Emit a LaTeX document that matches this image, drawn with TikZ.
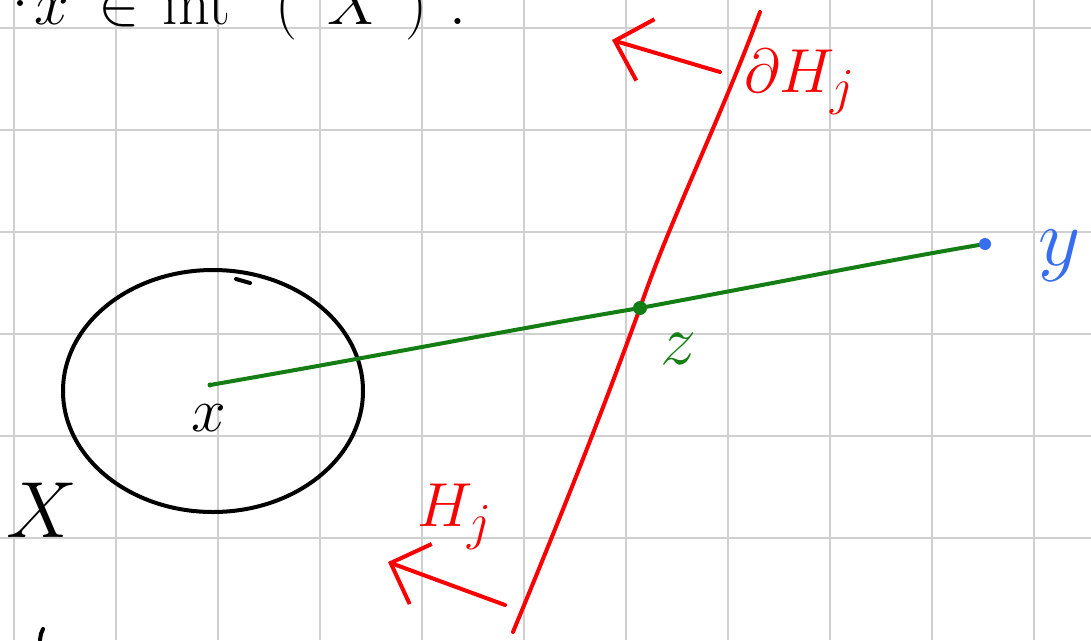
\documentclass[tikz,border=0pt]{standalone}
\usepackage{graphicx}
\usetikzlibrary{arrows.meta,shapes.geometric}
\definecolor{gridgray}{RGB}{208,208,208}
\definecolor{penred}{RGB}{250,0,0}
\definecolor{pengreen}{RGB}{20,125,20}
\definecolor{penblue}{RGB}{55,110,240}
\newcommand{\handtxt}[2][2.5]{\scalebox{#1}{\Huge #2}}
\tikzset{
  gridline/.style={draw=gridgray,line width=2.5pt},
  pen/.style={line width=4pt,line cap=round,line join=round},
  bigtext/.style={inner sep=0pt},
  normalarrow/.style={pen,draw=penred,-{Straight Barb[length=32pt,width=64pt,line width=4pt]}}
}
\begin{document}
\begin{tikzpicture}[x=1pt,y=-1pt]
\useasboundingbox (0,0) rectangle (1091,640);
\clip (0,0) rectangle (1091,640);
\fill[white] (0,0) rectangle (1091,640);
% grid paper
\foreach \gx in {14,116,218,320,422,524,626,728,830,932,1034}
  \draw[gridline] (\gx,0) -- (\gx,640);
\foreach \gy in {28,130,232,334,436,538}
  \draw[gridline] (0,\gy) -- (1091,\gy);
% top text, cut by the top edge
\fill (20,3) circle (3pt);
\node[bigtext,anchor=base west] (hyp) at (34,24) {\handtxt{$x\hspace{12pt}{\in}\hspace{9pt}\mathrm{int}\hspace{18pt}(\hspace{12pt}X\hspace{9pt})\hspace{9pt}.$}};
% set X
\node[draw,pen,ellipse,minimum width=300pt,minimum height=242pt,inner sep=0pt] (setX) at (213,391) {};
\draw[pen] (236,279) -- (250,283);
\node[bigtext] (Xlab) at (42,510) {\handtxt[3.2]{$X$}};
\draw[pen] (43,629) .. controls (41,633) .. (40,640);
% points
\coordinate (x) at (210,385);
\coordinate (z) at (640,308);
\coordinate (y) at (985,244);
\coordinate (hb) at (513,632);
\coordinate (ht) at (760,12);
% hyperplane boundary
\draw[pen,draw=penred] (hb) .. controls (580,470) and (610,390) .. (z)
  .. controls (670,220) and (720,120) .. (ht);
% segment from x to y
\draw[pen,draw=pengreen] (x) .. controls (400,352) and (520,328) .. (z)
  .. controls (780,282) and (900,258) .. (y);
\fill[pengreen] (z) circle (7pt);
\fill[penblue] (y) circle (6pt);
\fill[pengreen] (x) circle (2.5pt);
% labels
\node[bigtext] (xlab) at (209,418) {\handtxt{$x$}};
\node[bigtext,text=pengreen] (zlab) at (679,349) {\handtxt[2.9]{$z$}};
\node[bigtext,text=penblue] (ylab) at (1060,256) {\handtxt[3.3]{$y$}};
\node[bigtext,text=penred] (dHlab) at (800,82) {\handtxt{$\partial H_j$}};
\node[bigtext,text=penred] (Hlab) at (455,517) {\handtxt{$H_j$}};
% normal arrows
\coordinate (na1s) at (720,72);
\coordinate (na1e) at (612,40);
\coordinate (na2s) at (505,605);
\coordinate (na2e) at (388,562);
\draw[normalarrow] (na1s) -- (na1e);
\draw[normalarrow] (na2s) -- (na2e);
\end{tikzpicture}
\end{document}
